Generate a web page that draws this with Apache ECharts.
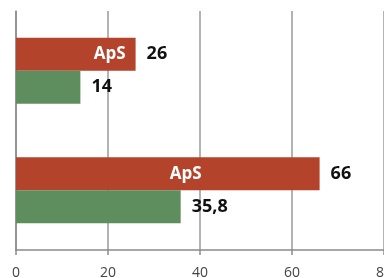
<!DOCTYPE html>
<html><head><meta charset="utf-8">
<script src="https://cdn.jsdelivr.net/npm/echarts@6/dist/echarts.min.js"></script>
<style>html,body{margin:0;padding:0;background:#fff}#c{width:384px;height:278px}</style>
</head><body><div id="c"></div>
<script>
const categories = ['A', 'B'];
const redValues = [26, 66];
const greenValues = [14, 35.8];
const redNames = ['ApS', 'ApS'];
const xTicks = [0, 20, 40, 60, 80];

const chart = echarts.init(document.getElementById('c'));
const valueLabel = {
  show: true, position: 'right', distance: 11,
  color: '#111', fontWeight: 'bold', fontSize: 18, fontFamily: 'Open Sans',
  formatter: p => String(p.value).replace('.', ',')
};
const catAxis = (show) => ({
  type: 'category', data: categories, inverse: true, show: show,
  axisLine: { show: true, lineStyle: { color: '#8a8a8a', width: 1.5 } },
  axisTick: { show: false }, axisLabel: { show: false }
});
chart.setOption({
  animation: false,
  grid: { left: 16, right: 0, top: 11, bottom: 28, containLabel: false, outerBoundsMode: 'none' },
  xAxis: {
    type: 'value', min: xTicks[0], max: xTicks[xTicks.length - 1], interval: 20,
    axisLine: { show: true, lineStyle: { color: '#8a8a8a', width: 1.5 } },
    axisTick: { show: true, length: 5, lineStyle: { color: '#8a8a8a', width: 1.5 } },
    splitLine: { show: true, lineStyle: { color: '#9a9a9a', width: 1.5 } },
    axisLabel: { color: '#444', fontSize: 14, fontFamily: 'Open Sans', margin: 16 }
  },
  yAxis: [catAxis(true), catAxis(false)],
  series: [
    {
      type: 'bar', data: redValues, yAxisIndex: 0,
      itemStyle: { color: '#B4432B' },
      barWidth: 33, barGap: '0%',
      label: valueLabel
    },
    {
      type: 'bar', data: greenValues, yAxisIndex: 0,
      itemStyle: { color: '#5F8E5E' },
      barWidth: 33, barGap: '0%',
      label: valueLabel
    },
    {
      type: 'bar', yAxisIndex: 1, silent: true, z: 3,
      data: redValues.map((v, i) => ({
        value: v,
        label: i === 0
          ? { position: 'insideRight', distance: 10 }
          : { position: 'inside', offset: [18, 0] }
      })),
      itemStyle: { color: 'rgba(0,0,0,0)' },
      barWidth: 33, barGap: '0%',
      label: { show: true, color: '#fff', fontWeight: 'bold', fontSize: 17, fontFamily: 'Open Sans',
               formatter: p => redNames[p.dataIndex] }
    },
    {
      type: 'bar', yAxisIndex: 1, silent: true, data: greenValues,
      itemStyle: { color: 'rgba(0,0,0,0)' },
      barWidth: 33, barGap: '0%'
    }
  ]
});
</script></body></html>
